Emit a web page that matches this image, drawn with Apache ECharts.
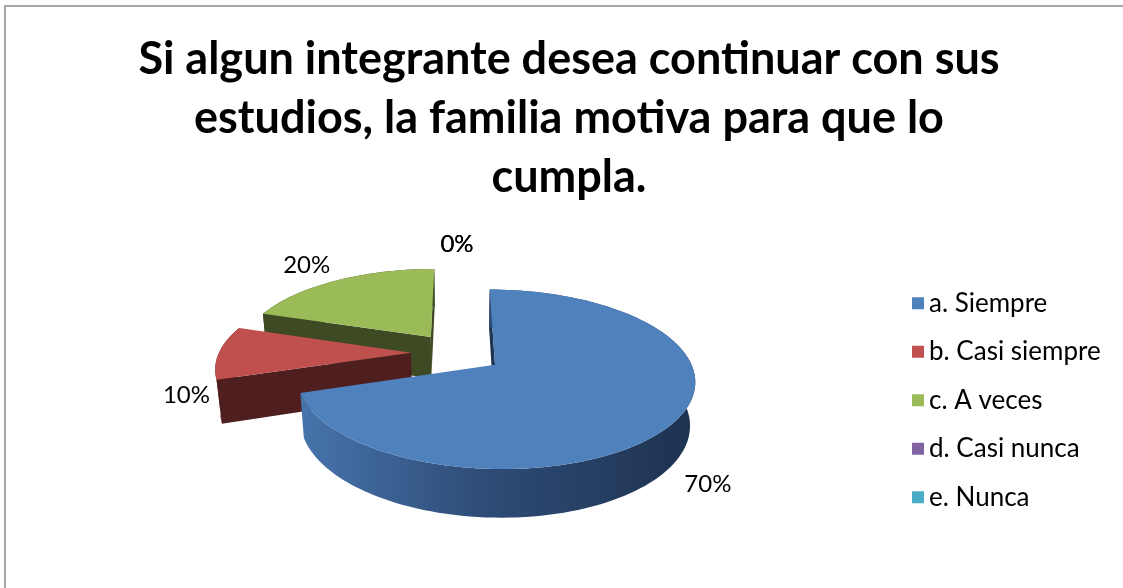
<!DOCTYPE html>
<html>
<head>
<meta charset="utf-8">
<title>Si algun integrante desea continuar con sus estudios</title>
<script src="https://cdn.jsdelivr.net/npm/echarts@6/dist/echarts.min.js"></script>
<style>
    html, body { margin: 0; padding: 0; background: #fff; }
    #chart { width: 1123px; height: 588px; }
</style>
</head>
<body>
<div id="chart"></div>
<script>
// datos de la encuesta
const categorias = ['a. Siempre', 'b. Casi siempre', 'c. A veces', 'd. Casi nunca', 'e. Nunca'];
const valores = [70, 10, 20, 0, 0];

// colores (cara superior y lateral)
const colores = ['#4F81BD', '#C0504D', '#9BBB59', '#8064A2', '#4BACC6'];
const lados = ['#1f3453', '#4f1e1e', '#3e4a23', '#3b2d4c', '#22505c'];

// geometria del pastel 3D (perspectiva simple)
const CX = 457, CY = 395;
const R = 188, H = 47, EXPL = 45;
const SIN_A = 0.47, COS_A = Math.sqrt(1 - SIN_A * SIN_A);
const DIST = 1060;

const total = valores.reduce((a, b) => a + b, 0);
const inicios = [];
let acumulado = 0;
valores.forEach(v => {
    inicios.push(acumulado / total * Math.PI * 2);
    acumulado += v;
});

// x a la derecha, y hacia arriba, z hacia el observador
function proyectar(x, y, z) {
    const yv = y * COS_A - z * SIN_A;
    const zv = y * SIN_A + z * COS_A;
    const k = DIST / (DIST - zv);
    return [CX + x * k, CY - yv * k];
}

// angulo medido en sentido horario desde las 12
function puntoArco(ang, r, ox, oz, y) {
    return proyectar(ox + r * Math.sin(ang), y, oz - r * Math.cos(ang));
}

function caraVisible(ang, angNormal, ox, oz) {
    const nx = Math.sin(angNormal), nz = -Math.cos(angNormal);
    const px = ox + R / 2 * Math.sin(ang), pz = oz - R / 2 * Math.cos(ang);
    return nx * (0 - px) + nz * (DIST * COS_A - pz) > 0;
}

function rellenoLateral(i) {
    if (i === 0) {
        return new echarts.graphic.LinearGradient(0, 0, 1, 0, [
            { offset: 0, color: '#4774ac' },
            { offset: 0.45, color: '#2f4d78' },
            { offset: 1, color: '#1e3250' }
        ]);
    }
    return lados[i];
}

function crearRender(i) {
    return function(params, api) {
        const v = api.value(0);
        const a0 = inicios[i];
        const a1 = a0 + v / total * Math.PI * 2;
        const m = (a0 + a1) / 2;
        const ox = EXPL * Math.sin(m), oz = -EXPL * Math.cos(m);
        const children = [];

        if (v > 0) {
            const n = Math.max(2, Math.ceil((a1 - a0) / (Math.PI / 90)));
            const arcoSup = [], arcoInf = [];
            for (let k = 0; k <= n; k++) {
                const ang = a0 + (a1 - a0) * k / n;
                arcoSup.push(puntoArco(ang, R, ox, oz, H));
                arcoInf.push(puntoArco(ang, R, ox, oz, 0));
            }
            const centroSup = proyectar(ox, H, oz);
            const centroInf = proyectar(ox, 0, oz);

            // caras de corte
            [[a0, a0 - Math.PI / 2, 0], [a1, a1 + Math.PI / 2, n]].forEach(([ang, angN, idx]) => {
                if (caraVisible(ang, angN, ox, oz)) {
                    children.push({
                        type: 'polygon',
                        shape: { points: [centroSup, arcoSup[idx], arcoInf[idx], centroInf] },
                        style: { fill: lados[i] }
                    });
                }
            });

            // pared exterior
            children.push({
                type: 'polygon',
                shape: { points: arcoSup.concat(arcoInf.slice().reverse()) },
                style: { fill: rellenoLateral(i) }
            });

            // cara superior
            children.push({
                type: 'polygon',
                shape: { points: [centroSup].concat(arcoSup) },
                style: { fill: colores[i] }
            });
        }

        // etiqueta de porcentaje
        const sx = Math.sin(m), sz = -Math.cos(m);
        const alinear = sx > 0.35 ? 'left' : (sx < -0.35 ? 'right' : 'center');
        const vertical = sz > 0.35 ? 'top' : (sz < -0.35 ? 'bottom' : 'middle');
        const pos = puntoArco(m, R + 14, ox, oz, sz >= 0 ? 0 : H);
        children.push({
            type: 'text',
            x: pos[0],
            y: sz < -0.9 ? pos[1] - 6 : pos[1],
            style: {
                text: Math.round(v / total * 100) + '%',
                fill: '#000',
                fontSize: 24,
                fontFamily: 'Lato',
                align: alinear,
                verticalAlign: vertical
            }
        });

        return { type: 'group', children: children };
    };
}

// orden de dibujo: atras primero
const ordenZ = [5, 4, 3, 6, 6];

const chart = echarts.init(document.getElementById('chart'), null, { renderer: 'canvas' });

const option = {
    animation: false,
    backgroundColor: '#fff',
    color: colores,
    title: {
        text: 'Si algun integrante desea continuar con sus\nestudios, la familia motiva para que lo\ncumpla.',
        left: 564,
        top: 25,
        textAlign: 'center',
        textStyle: {
            fontFamily: 'Lato',
            fontWeight: 'bold',
            fontSize: 45,
            lineHeight: 59,
            color: '#000'
        }
    },
    legend: {
        orient: 'vertical',
        left: 907,
        top: 284,
        icon: 'rect',
        itemWidth: 12,
        itemHeight: 12,
        itemGap: 20,
        selectedMode: false,
        data: categorias,
        textStyle: {
            fontFamily: 'Lato',
            fontSize: 26,
            lineHeight: 28.5,
            color: '#000'
        }
    },
    graphic: [{
        type: 'rect',
        shape: { x: 5, y: 6, width: 1200, height: 700 },
        style: { fill: 'none', stroke: '#8a8a8a', lineWidth: 1.5 },
        silent: true
    }],
    series: categorias.map((nombre, i) => ({
        type: 'custom',
        name: nombre,
        coordinateSystem: 'none',
        z: ordenZ[i],
        itemStyle: { color: colores[i] },
        renderItem: crearRender(i),
        data: [[valores[i]]]
    }))
};

chart.setOption(option);

window.addEventListener('resize', function() {
    chart.resize();
});
</script>
</body>
</html>
